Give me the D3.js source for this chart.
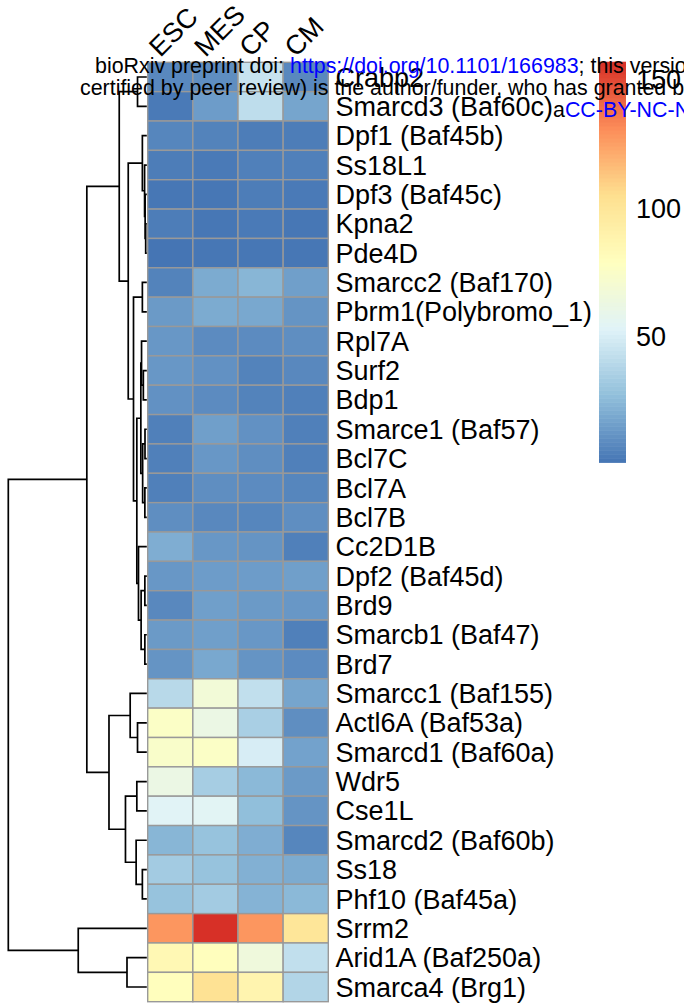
<!DOCTYPE html>
<html>
<head>
<meta charset="utf-8">
<script src="https://cdn.jsdelivr.net/npm/d3@7"></script>
<style>
  body { margin: 0; background: #fff; }
  text { font-family: "Liberation Sans", Arial, Helvetica, sans-serif; }
</style>
</head>
<body>
<svg id="chart"></svg>
<script>
// ---- data ----
const rowLabels = [
  "Crabp2", "Smarcd3 (Baf60c)", "Dpf1 (Baf45b)", "Ss18L1", "Dpf3 (Baf45c)", "Kpna2", "Pde4D",
  "Smarcc2 (Baf170)", "Pbrm1(Polybromo_1)", "Rpl7A", "Surf2", "Bdp1", "Smarce1 (Baf57)",
  "Bcl7C", "Bcl7A", "Bcl7B", "Cc2D1B", "Dpf2 (Baf45d)", "Brd9", "Smarcb1 (Baf47)", "Brd7",
  "Smarcc1 (Baf155)", "Actl6A (Baf53a)", "Smarcd1 (Baf60a)", "Wdr5", "Cse1L", "Smarcd2 (Baf60b)",
  "Ss18", "Phf10 (Baf45a)", "Srrm2", "Arid1A (Baf250a)", "Smarca4 (Brg1)"
];
const colLabels = ["ESC", "MES", "CP", "CM"];

const escValues = [8, 3, 7, 4, 2, 4, 1.2, 6, 14, 13, 13, 11, 5, 5, 5, 10, 21, 13, 8, 14, 12,
  40, 76, 74, 62, 54, 24, 33, 29, 128, 85, 80];
const mesValues = [10, 15, 6, 3, 2, 2, 2, 20, 20, 9, 11, 9, 16, 13, 10, 8, 13, 15, 16, 16, 19,
  68, 62, 76, 34, 55, 29, 29, 33, 156.8, 80, 103];
const cpValues = [45, 42, 4, 5, 4, 3, 2, 24, 19, 9, 6, 6, 11, 10, 9, 7, 12, 15, 14, 13, 12,
  43, 35, 50, 25, 27, 21, 22, 23, 128, 66, 88];
const cmValues = [8, 18, 4, 5, 3, 2, 2, 16, 12, 10, 8, 5, 5, 5, 7, 10, 5, 16, 13, 5, 9,
  18, 10, 17, 14, 12, 7, 20, 25, 100, 43, 38];

// row clustering, hclust style: negative = leaf (row index + 1), positive = earlier merge step
const mergePairs = [
  [-6, -7], [-5, 1], [-4, 2], [-3, 3], [-1, -2], [-8, -9], [-11, -12], [-10, 7],
  [-13, -14], [-15, -16], [9, 10], [8, 11], [-18, -19], [-20, -21], [13, 14], [-17, 15],
  [12, 16], [6, 17], [4, 18], [5, 19], [-23, -24], [-22, 21], [-25, -26], [-28, -29],
  [-27, 24], [23, 25], [22, 26], [20, 27], [-31, -32], [-30, 29], [28, 30]
];
const mergeHeights = [
  0.8, 1.2, 1.6, 3.2, 6.7, 3.2, 2.5, 3.8,
  1.3, 1.4, 3.0, 4.3, 1.4, 1.4, 4.1, 6.0,
  7.2, 9.6, 13.4, 19.9, 6.7, 12.0, 7.2, 3.2,
  7.7, 15.4, 27.3, 43.3, 14.3, 49.5, 100
];

const legendTicks = [50, 100, 150];
const paletteColors = ["#4575B4", "#91BFDB", "#E0F3F8", "#FFFFBF", "#FEE090", "#FC8D59", "#D73027"];

// ---- layout ----
const width = 684, height = 1007;
const labelSize = 27;
const svg = d3.select("#chart").attr("width", width).attr("height", height);

const seriesByCol = [escValues, mesValues, cpValues, cmValues];
const cells = [];
rowLabels.forEach((r, i) => {
  colLabels.forEach((c, j) => cells.push({row: r, col: c, value: seriesByCol[j][i]}));
});

const [vmin, vmax] = d3.extent(cells, d => d.value);
const color = d3.scaleLinear()
  .domain(paletteColors.map((_, i) => vmin + (vmax - vmin) * i / (paletteColors.length - 1)))
  .range(paletteColors)
  .interpolate(d3.interpolateRgb);

const xScale = d3.scaleBand().domain(colLabels).range([147.7, 328.3]);
const yScale = d3.scaleBand().domain(rowLabels).range([62.3, 1001.7]);
const treeX = d3.scaleLinear().domain([0, d3.max(mergeHeights)]).range([146.8, 8.3]);

// ---- dendrogram ----
const nodes = [];
function nodeOf(ref) {
  if (ref < 0) {
    const r = rowLabels[-ref - 1];
    return {x: treeX(0), y: yScale(r) + yScale.bandwidth() / 2};
  }
  return nodes[ref - 1];
}
const treeG = svg.append("g").attr("class", "tree");
mergePairs.forEach((pair, i) => {
  const a = nodeOf(pair[0]), b = nodeOf(pair[1]);
  const px = treeX(mergeHeights[i]);
  nodes.push({x: px, y: (a.y + b.y) / 2});
  treeG.append("path")
    .attr("d", `M${a.x},${a.y}H${px}V${b.y}H${b.x}`)
    .attr("fill", "none")
    .attr("stroke", "#000")
    .attr("stroke-width", 1.7);
});

// ---- heatmap ----
svg.append("g").attr("class", "cells")
  .selectAll("rect")
  .data(cells)
  .join("rect")
    .attr("x", d => xScale(d.col))
    .attr("y", d => yScale(d.row))
    .attr("width", xScale.bandwidth())
    .attr("height", yScale.bandwidth())
    .attr("fill", d => color(d.value))
    .attr("stroke", "#999999")
    .attr("stroke-width", 1.4);

// row labels
svg.append("g").attr("class", "row-labels")
  .selectAll("text")
  .data(rowLabels)
  .join("text")
    .attr("x", 335.5)
    .attr("y", d => yScale(d) + yScale.bandwidth() / 2 + 9.6)
    .attr("font-size", labelSize)
    .text(d => d);

// column labels
svg.append("g").attr("class", "col-labels")
  .selectAll("text")
  .data(colLabels)
  .join("text")
    .attr("transform", d => `translate(${xScale(d) + xScale.bandwidth() / 2 - 10},58) rotate(-45)`)
    .attr("font-size", labelSize)
    .text(d => d);

// ---- legend ----
const legendY = d3.scaleLinear().domain([vmin, vmax]).range([462.3, 61.7]);
const legendSteps = d3.range(100).map(i => vmin + (vmax - vmin) * i / 100);
const stepH = (legendY(vmin) - legendY(vmax)) / 100;
const legendG = svg.append("g").attr("class", "legend");
legendG.selectAll("rect")
  .data(legendSteps)
  .join("rect")
    .attr("x", 599)
    .attr("y", d => legendY(d) - stepH)
    .attr("width", 27)
    .attr("height", stepH + 0.6)
    .attr("fill", d => color(d + (vmax - vmin) / 200));
legendG.selectAll("text")
  .data(legendTicks)
  .join("text")
    .attr("x", 636)
    .attr("y", d => legendY(d) + 9.6)
    .attr("font-size", labelSize)
    .text(d => d);

// ---- bioRxiv watermark ----
const note = svg.append("g").attr("class", "note").attr("font-size", 21.4);
const l1 = note.append("text").attr("x", 95).attr("y", 73);
l1.append("tspan").text("bioRxiv preprint doi: ");
l1.append("tspan").attr("fill", "#0000ff").text("https://doi.org/10.1101/166983");
l1.append("tspan").text("; this version posted July 24, 2017. The copyright holder for this preprint");
note.append("text").attr("x", 80).attr("y", 95)
  .text("certified by peer review) is the author/funder, who has granted bioRxiv a license to display the preprint in perpetuity.");
const l3 = note.append("text").attr("x", 553).attr("y", 117);
l3.append("tspan").text("a");
l3.append("tspan").attr("fill", "#0000ff").text("CC-BY-NC-ND 4.0 International license");
</script>
</body>
</html>
